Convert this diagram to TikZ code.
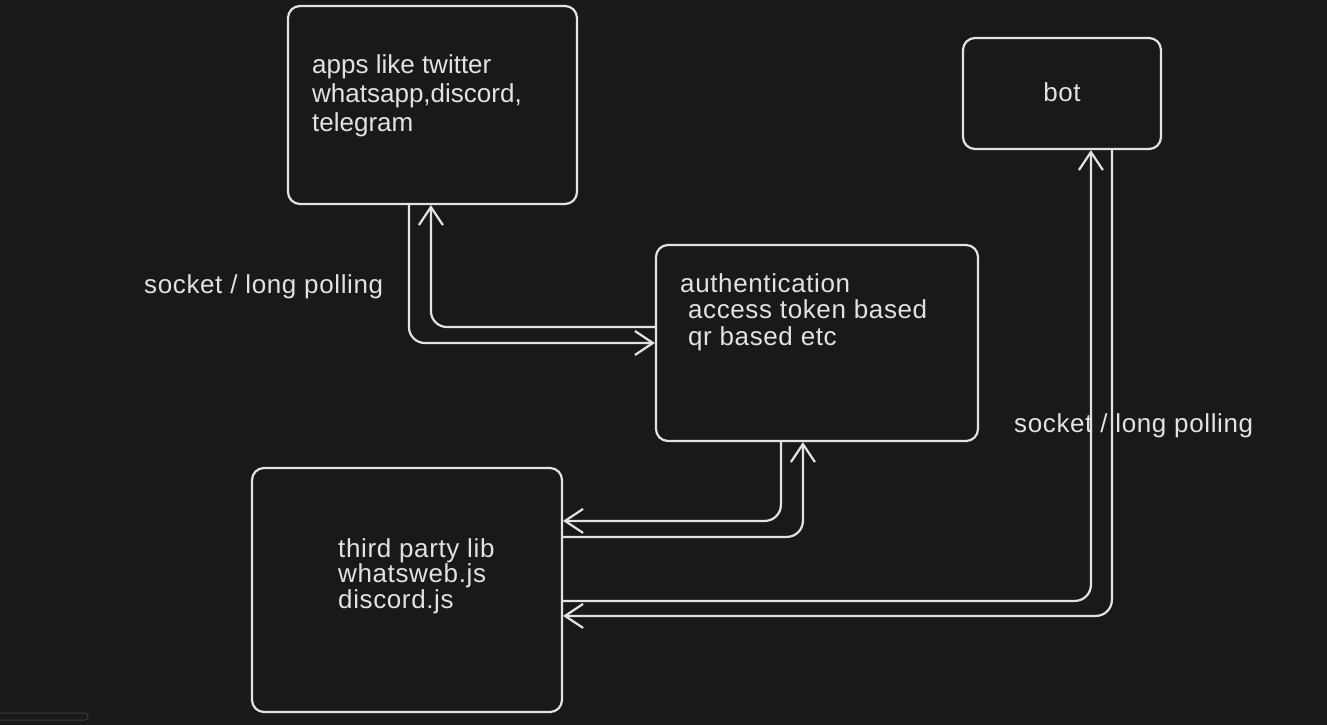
\documentclass[tikz,border=0pt]{standalone}
\usepackage{fontspec}
\setmainfont{Liberation Sans}
\newfontfamily\widefont[LetterSpace=2.4]{Liberation Sans}
\usetikzlibrary{arrows.meta,calc}
\definecolor{bgc}{HTML}{191919}
\definecolor{ink}{HTML}{E2E2E2}
\definecolor{sb}{HTML}{3C3C3C}
\begin{document}
\begin{tikzpicture}[x=1pt,y=-1pt,
  box/.style={draw=ink,line width=2.2pt,rounded corners=12pt,inner sep=0pt},
  conn/.style={draw=ink,line width=2.2pt,rounded corners=16pt,line cap=round},
  tip/.style={-{Straight Barb[length=18pt,width=24pt,line width=2.2pt]}},
  txt/.style={text=ink,inner sep=0pt,font=\fontsize{26}{29}\selectfont,align=left},
  wtxt/.style={txt,font=\widefont\fontsize{26}{26}\selectfont},
]
\useasboundingbox (0,0) rectangle (1327,725);
\fill[bgc] (0,0) rectangle (1327,725);
\draw[sb,line width=1pt,rounded corners=3pt] (-5,713) rectangle (88,720);

\node[box,minimum width=289pt,minimum height=198pt] (app) at (432.5,105) {};
\node[box,minimum width=198pt,minimum height=111pt] (bot) at (1062,93.5) {};
\node[box,minimum width=322pt,minimum height=196pt] (auth) at (817,343) {};
\node[box,minimum width=310pt,minimum height=244pt] (third) at (407,590) {};

\node[txt,anchor=base west] (apptxt) at (312,131) {apps like twitter\\whatsapp,discord,\\telegram};
\node[wtxt,anchor=base] (bottxt) at (1062,101) {bot};
\node[wtxt,anchor=base west,font=\widefont\fontsize{26}{26.5}\selectfont] (authtxt) at (680,345) {authentication\\\ access token based\\\ qr based etc};
\node[wtxt,anchor=base west,font=\widefont\fontsize{26}{25.5}\selectfont] (thirdtxt) at (338,608) {third party lib\\whatsweb.js\\discord.js};
\node[wtxt,anchor=base west] (lbl1) at (144,293) {socket / long polling};
\node[wtxt,anchor=base west] (lbl2) at (1014,432) {socket / long polling};

% app <-> auth
\draw[conn,tip] ($(app.south west)+(122,0)$) |- (auth.west);
\draw[conn,tip] ($(auth.west)+(0,-16)$) -| ($(app.south west)+(144,0)$);
% auth <-> third
\draw[conn,tip] ($(auth.south west)+(126,0)$) |- ($(third.north east)+(0,54)$);
\draw[conn,tip] ($(third.north east)+(0,70)$) -| ($(auth.south west)+(148,0)$);
% third <-> bot
\draw[conn,tip] ($(third.north east)+(0,134)$) -| ($(bot.south west)+(129,0)$);
\draw[conn,tip] ($(bot.south west)+(150,0)$) |- ($(third.north east)+(0,149)$);
\end{tikzpicture}
\end{document}
